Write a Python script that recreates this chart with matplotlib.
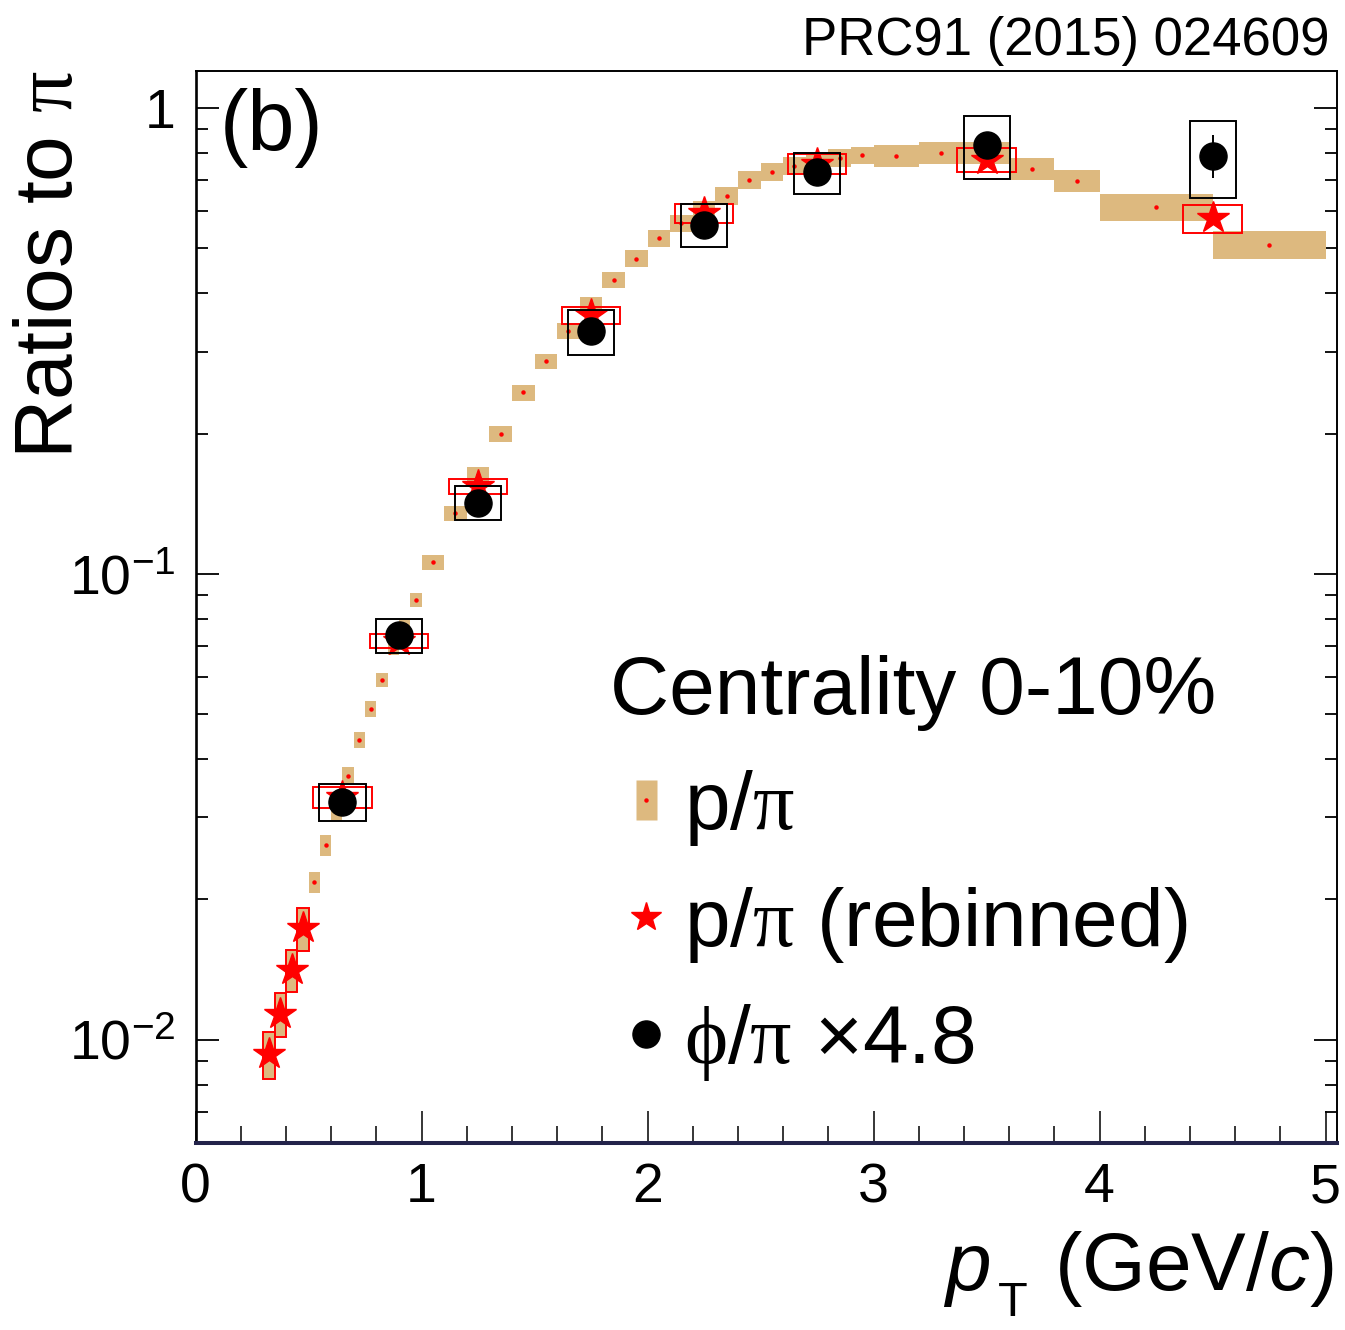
import matplotlib
matplotlib.use("Agg")
import numpy as np
import matplotlib.pyplot as plt
from matplotlib.lines import Line2D
from matplotlib.path import Path
from matplotlib.legend_handler import HandlerTuple
from matplotlib.ticker import MultipleLocator, LogLocator, FixedLocator, FuncFormatter, NullFormatter

plt.rcParams["font.family"] = ["Liberation Sans", "DejaVu Sans"]
plt.rcParams["mathtext.fontset"] = "custom"
plt.rcParams["mathtext.rm"] = "Liberation Serif"
plt.rcParams["mathtext.it"] = "Liberation Sans:italic"
plt.rcParams["mathtext.sf"] = "Liberation Sans"
plt.rcParams["mathtext.bf"] = "Liberation Sans:bold"

# ---- p/pi, fine pT binning (bin edges, values, systematic errors) ----
pp_edges = [0.30, 0.35, 0.40, 0.45, 0.50, 0.55, 0.60, 0.65, 0.70, 0.75, 0.80,
            0.85, 0.90, 0.95, 1.00, 1.10, 1.20, 1.30, 1.40, 1.50, 1.60, 1.70,
            1.80, 1.90, 2.00, 2.10, 2.20, 2.30, 2.40, 2.50, 2.60, 2.70, 2.80,
            2.90, 3.00, 3.20, 3.40, 3.60, 3.80, 4.00, 4.50, 5.00]
pp_val = [0.0093, 0.01136, 0.01413, 0.01734, 0.0218, 0.0262, 0.0310, 0.0368,
          0.0440, 0.0512, 0.0591, 0.0693, 0.0768, 0.0878, 0.1058, 0.1348,
          0.163, 0.200, 0.245, 0.286, 0.332, 0.377, 0.427, 0.475, 0.5245,
          0.565, 0.605, 0.647, 0.700, 0.729, 0.750, 0.765, 0.780, 0.7915,
          0.788, 0.801, 0.801, 0.741, 0.697, 0.613, 0.509]
pp_sys = [0.00106, 0.00123, 0.00145, 0.00182, 0.00113, 0.00136, 0.00149,
          0.00162, 0.0018, 0.00205, 0.00207, 0.00243, 0.00269, 0.00299,
          0.0037, 0.00499, 0.0062, 0.0078, 0.0098, 0.0109, 0.0129, 0.0151,
          0.0171, 0.0195, 0.022, 0.0237, 0.026, 0.0285, 0.0308, 0.0321,
          0.033, 0.0337, 0.0343, 0.0348, 0.0426, 0.0425, 0.0433, 0.040,
          0.0376, 0.0411, 0.0341]

# ---- p/pi, rebinned to the phi binning ----
rb_pt = [0.325, 0.375, 0.425, 0.475, 0.65, 0.90, 1.25, 1.75, 2.25, 2.75, 3.5, 4.5]
rb_val = [0.0093, 0.01136, 0.01413, 0.01734, 0.0332, 0.0718, 0.154, 0.359,
          0.594, 0.758, 0.774, 0.579]
rb_sys = [0.00106, 0.00123, 0.00145, 0.00182, 0.0017, 0.0024, 0.006, 0.0155,
          0.029, 0.037, 0.045, 0.041]
rb_xerr = [0.025, 0.025, 0.025, 0.025, 0.13, 0.13, 0.13, 0.13, 0.13, 0.13, 0.13, 0.13]

# ---- phi/pi scaled by 4.8 ----
phi_pt = [0.65, 0.90, 1.25, 1.75, 2.25, 2.75, 3.5, 4.5]
phi_val = [0.0324, 0.0738, 0.1422, 0.332, 0.5618, 0.728, 0.832, 0.790]
phi_stat = [0.0012, 0.0025, 0.004, 0.009, 0.016, 0.022, 0.035, 0.084]
phi_sys = [0.0030, 0.0062, 0.012, 0.037, 0.060, 0.074, 0.127, 0.148]
phi_xerr = [0.102] * 8

TAN = "#ddb97f"
W, H = 1345, 1330

fig = plt.figure(figsize=(W / 100, H / 100), dpi=100)
ax = fig.add_axes([0.1454, 0.1406, 0.8486, 0.806])
ax.set_yscale("log")
ax.set_xlim(0, 5.05)
ax.set_ylim(0.006, 1.2)

# fine-binned p/pi: systematic boxes spanning the bin, tiny central marker
edges = np.array(pp_edges)
centres = 0.5 * (edges[:-1] + edges[1:])
widths = np.diff(edges)
v = np.array(pp_val)
s = np.array(pp_sys)
ax.bar(centres, 2 * s, bottom=v - s, width=widths, color=TAN, linewidth=0, zorder=2)
ax.plot(centres, v, ls="none", marker="o", ms=2.2, color="red", zorder=3)

# rebinned p/pi
v = np.array(rb_val)
s = np.array(rb_sys)
ax.bar(rb_pt, 2 * s, bottom=v - s, width=2 * np.array(rb_xerr), fill=False,
       edgecolor="red", linewidth=1.4, zorder=4)
ax.plot(rb_pt, rb_val, ls="none", marker="*", ms=24, color="red", zorder=5)

# phi/pi x 4.8
v = np.array(phi_val)
s = np.array(phi_sys)
ax.bar(phi_pt, 2 * s, bottom=v - s, width=2 * np.array(phi_xerr), fill=False,
       edgecolor="black", linewidth=1.4, zorder=6)
ax.errorbar(phi_pt, phi_val, yerr=phi_stat, fmt="o", ms=19.5, color="black",
            elinewidth=1.4, capsize=0, zorder=7)

# axes, ticks
ax.xaxis.set_major_locator(MultipleLocator(1))
ax.xaxis.set_minor_locator(MultipleLocator(0.2))
ax.yaxis.set_major_locator(FixedLocator([0.01, 0.1, 1.0]))
ax.yaxis.set_minor_locator(LogLocator(base=10, subs=np.arange(2, 10)))
ax.yaxis.set_minor_formatter(NullFormatter())

def ylab(val, pos):
    if val >= 0.99:
        return "1"
    e = int(round(np.log10(val)))
    return r"$\mathsf{10^{%d}}$" % e

ax.yaxis.set_major_formatter(FuncFormatter(ylab))
ax.tick_params(axis="x", which="major", direction="in", length=23, width=1.1,
               top=False, labelsize=40, pad=14)
ax.tick_params(axis="x", which="minor", direction="in", length=12, width=1.1, top=False)
ax.tick_params(axis="y", which="major", direction="in", length=16.5, width=1.3,
               right=True, labelsize=40, pad=14)
ax.tick_params(axis="y", which="minor", direction="in", length=8.6, width=1.3, right=True)

ax.spines["bottom"].set_color("#23234a")
ax.spines["bottom"].set_linewidth(2.9)
ax.spines["left"].set_linewidth(1.9)
ax.spines["top"].set_linewidth(1.4)
ax.spines["right"].set_linewidth(1.4)

# labels
fig.text(1330 / W, 1 - 55 / H, "PRC91 (2015) 024609", ha="right",
         va="baseline", fontsize=38)
fig.text(220 / W, 1 - 150 / H, "(b)", ha="left", va="baseline", fontsize=61)
fig.text(51 / W, 1 - 70 / H, r"Ratios to $\mathrm{\pi}$", rotation=90,
         ha="center", va="top", fontsize=59)

# x-axis title: italic p, lowered T subscript, unit in parentheses
fig.text(1333 / W, 1 - 1290 / H, r"(GeV/$c$)", ha="right", va="baseline", fontsize=59)
fig.text(943 / W, 1 - 1290 / H, r"$p$", ha="left", va="baseline", fontsize=59)
fig.text(998 / W, 1 - 1316 / H, "T", ha="left", va="baseline", fontsize=35)

# legend
rect = Path([(-0.2625, -0.5), (0.2625, -0.5), (0.2625, 0.5), (-0.2625, 0.5), (-0.2625, -0.5)],
            [Path.MOVETO, Path.LINETO, Path.LINETO, Path.LINETO, Path.CLOSEPOLY])
h_pp = (Line2D([], [], ls="none", marker=rect, ms=28.8, mfc=TAN, mec="none"),
        Line2D([], [], ls="none", marker="o", ms=2.2, color="red"))
h_rb = Line2D([], [], ls="none", marker="*", ms=22, color="red")
h_phi = Line2D([], [], ls="none", marker="o", ms=19.5, color="black")
ax.legend([h_pp, h_rb, h_phi],
          [r"p/$\mathrm{\pi}$", r"p/$\mathrm{\pi}$ (rebinned)", r"$\mathrm{\phi}$/$\mathrm{\pi}$ ×4.8"],
          title="Centrality 0-10%", loc="upper left", bbox_to_anchor=(0.363, 0.455),
          frameon=False, fontsize=59, title_fontsize=59, alignment="left",
          handlelength=0.875, handletextpad=0.03, borderpad=0, borderaxespad=0,
          labelspacing=0.45, handler_map={tuple: HandlerTuple(ndivide=1)})

fig.savefig("out.png", dpi=100, facecolor="white")
